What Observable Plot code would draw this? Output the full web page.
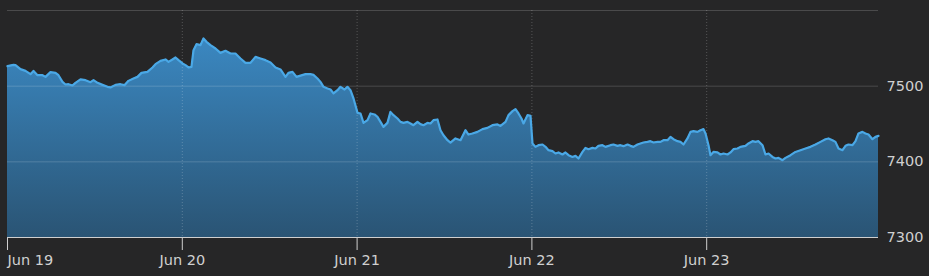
<!DOCTYPE html>
<html>
<head>
<meta charset="utf-8">
<script src="https://cdn.jsdelivr.net/npm/d3@7"></script>
<script src="https://cdn.jsdelivr.net/npm/@observablehq/plot@0.6"></script>
<style>
  html, body { margin: 0; padding: 0; background: #262627; }
  #chart { width: 929px; height: 276px; }
</style>
</head>
<body>
<div id="chart"></div>
<script>
// [hours since Jun 19 00:00, index value]
const series = [
  [0,7526.4],[0.82,7528.2],[1.10,7527.8],[1.78,7522.5],[2.47,7520.2],[3.16,7515.9],[3.57,7520.2],[4.12,7514.5],
  [4.81,7514.5],[5.22,7512.3],[5.90,7518.5],[6.59,7517.6],[7.00,7514.5],[7.55,7505.7],[7.96,7502.2],[8.38,7502.6],
  [8.92,7500.9],[9.34,7504.4],[10.02,7508.9],[10.71,7507.9],[11.40,7505.3],[11.81,7507.9],[12.36,7504.4],[13.04,7501.7],
  [13.73,7499.1],[14.14,7498.3],[14.83,7501.7],[15.51,7502.6],[16.06,7501.3],[16.61,7507.0],[17.30,7510.2],[17.85,7512.3],
  [18.40,7517.6],[19.22,7518.9],[19.91,7524.7],[20.32,7529.1],[21.01,7533.4],[21.69,7535.3],[22.11,7532.1],[22.65,7535.3],
  [23.07,7537.9],[23.48,7534.4],[24.03,7530.0],[24.44,7527.8],[24.85,7524.7],[25.26,7525.5],[25.54,7547.6],[25.95,7555.5],
  [26.50,7554.2],[26.91,7563.1],[27.32,7558.6],[27.87,7554.2],[28.56,7549.8],[29.24,7544.0],[29.93,7546.7],[30.62,7543.2],
  [31.30,7543.2],[31.99,7536.6],[32.68,7530.8],[33.36,7530.8],[34.05,7538.7],[34.74,7536.6],[35.42,7534.4],[36.11,7531.3],
  [36.80,7524.7],[37.48,7522.1],[38.17,7512.3],[38.58,7517.6],[39.13,7518.9],[39.68,7512.3],[40.23,7513.9],[40.92,7515.9],
  [41.60,7515.9],[42.01,7514.9],[42.56,7510.2],[42.97,7505.7],[43.39,7499.1],[43.94,7497.0],[44.35,7495.6],[44.76,7490.4],
  [45.31,7494.7],[45.72,7499.1],[46.27,7495.6],[46.68,7499.1],[47.09,7494.7],[47.51,7483.7],[48.06,7464.7],[48.47,7463.9],
  [48.88,7451.5],[49.43,7455.1],[49.84,7463.9],[50.39,7462.6],[50.80,7459.4],[51.21,7452.8],[51.62,7446.2],[52.17,7451.5],
  [52.58,7466.0],[53.00,7461.7],[53.55,7457.3],[53.96,7452.8],[54.37,7451.5],[54.92,7452.8],[55.33,7450.7],[55.74,7448.4],
  [56.29,7452.8],[56.70,7449.8],[57.12,7448.4],[57.67,7451.5],[58.08,7450.7],[58.49,7455.1],[59.04,7456.0],[59.45,7441.8],
  [59.86,7435.2],[60.41,7428.6],[60.82,7425.3],[61.51,7430.9],[62.20,7428.6],[62.88,7441.8],[63.29,7436.1],[63.84,7437.5],
  [64.53,7439.6],[65.22,7443.2],[65.90,7444.9],[66.59,7448.4],[67.28,7449.4],[67.69,7447.5],[68.38,7452.8],[68.79,7461.7],
  [69.34,7467.0],[69.75,7469.6],[70.16,7463.9],[70.57,7457.3],[70.85,7450.7],[71.40,7461.7],[71.81,7460.7],[72.08,7424.3],
  [72.49,7419.8],[72.91,7422.0],[73.46,7422.9],[73.87,7419.8],[74.28,7415.4],[74.83,7414.1],[75.24,7411.0],[75.65,7412.4],
  [76.20,7409.7],[76.61,7412.4],[77.03,7408.8],[77.57,7406.5],[77.99,7407.9],[78.40,7404.4],[78.95,7413.1],[79.36,7418.4],
  [79.77,7416.7],[80.32,7418.4],[80.73,7417.6],[81.14,7421.1],[81.69,7422.0],[82.11,7419.8],[82.79,7422.0],[83.20,7422.9],
  [83.75,7421.1],[84.16,7422.0],[84.58,7420.7],[85.13,7422.9],[85.54,7421.1],[85.95,7419.8],[86.50,7422.9],[86.91,7424.3],
  [87.32,7425.6],[87.87,7426.4],[88.28,7427.3],[88.70,7425.6],[89.25,7426.4],[89.66,7426.4],[90.07,7428.6],[90.62,7428.6],
  [91.03,7433.0],[91.44,7429.9],[91.99,7427.3],[92.40,7426.4],[92.82,7422.9],[93.36,7430.9],[93.78,7439.6],[94.19,7440.5],
  [94.74,7439.6],[95.15,7441.8],[95.56,7443.2],[95.84,7437.5],[96.25,7422.0],[96.52,7408.8],[96.93,7413.1],[97.48,7412.4],
  [97.89,7409.7],[98.31,7411.0],[98.86,7409.7],[99.27,7412.4],[99.68,7416.7],[100.23,7417.6],[100.64,7419.8],[101.33,7421.1],
  [101.74,7424.3],[102.29,7427.3],[102.70,7426.4],[103.11,7427.3],[103.66,7422.0],[104.07,7409.7],[104.49,7411.0],[105.03,7406.5],
  [105.45,7404.4],[105.86,7405.2],[106.41,7402.2],[106.82,7405.2],[107.51,7408.8],[108.19,7413.1],[108.88,7415.4],[109.57,7417.6],
  [110.25,7419.8],[110.94,7422.9],[111.63,7426.4],[112.31,7429.9],[112.72,7430.9],[113.27,7428.6],[113.68,7426.4],[114.10,7417.6],
  [114.65,7415.4],[115.06,7421.1],[115.47,7422.9],[116.02,7422.0],[116.43,7427.3],[116.84,7437.5],[117.39,7439.6],[117.80,7437.5],
  [118.22,7436.1],[118.76,7429.9],[119.18,7433.0],[119.59,7434.3]
];
const dayStarts = ["2018-06-19","2018-06-20","2018-06-21","2018-06-22","2018-06-23"];
const tickLabels = ["Jun 19","Jun 20","Jun 21","Jun 22","Jun 23"];
const yTicks = [7300, 7400, 7500];
const yGrid = [7400, 7500, 7600];
const yDomain = [7300, 7600];

const start = Date.UTC(2018, 5, 19);
const data = series.map(([h, v]) => ({t: new Date(start + h * 3600e3), v}));
const days = dayStarts.map(s => new Date(s + "T00:00:00Z"));
const dayLabels = days.map((d, i) => ({d, label: tickLabels[i]}));

const W = 929, H = 276, mT = 10, mB = 39, mL = 7, mR = 51;

const gradientDefs = () => {
  const defs = d3.create("svg:defs");
  const g = defs.append("linearGradient")
    .attr("id", "areaGrad")
    .attr("gradientUnits", "userSpaceOnUse")
    .attr("x1", 0).attr("x2", 0)
    .attr("y1", mT).attr("y2", H - mB);
  g.append("stop").attr("offset", "0%").attr("stop-color", "#3d8fcc");
  g.append("stop").attr("offset", "100%").attr("stop-color", "#2a5474");
  return defs.node();
};

const chart = Plot.plot({
  width: W,
  height: H,
  marginTop: mT,
  marginBottom: mB,
  marginLeft: mL,
  marginRight: mR,
  style: {background: "#262627", fontFamily: "DejaVu Sans, sans-serif", fontSize: "14px", color: "#d0d0d0", overflow: "visible"},
  x: {type: "utc", domain: [data[0].t, data[data.length - 1].t]},
  y: {domain: yDomain},
  marks: [
    gradientDefs,
    Plot.areaY(data, {x: "t", y1: yDomain[0], y2: "v", fill: "url(#areaGrad)", curve: "linear"}),
    Plot.ruleY(yGrid, {stroke: "#ffffff", strokeOpacity: 0.17, strokeWidth: 1}),
    Plot.ruleX(days.slice(1), {stroke: "#ffffff", strokeOpacity: 0.22, strokeDasharray: "1,2", strokeWidth: 1}),
    Plot.lineY(data, {x: "t", y: "v", stroke: "#4aa8e6", strokeWidth: 2.2, strokeLinejoin: "round"}),
    Plot.ruleY([yDomain[0]], {stroke: "#cfcfcf", strokeWidth: 1}),
    Plot.axisX({ticks: days, tickSize: 13, tickFormat: () => "", stroke: "#cfcfcf", label: null}),
    Plot.text(dayLabels.slice(0, 1), {x: "d", y: yDomain[0], text: "label", dy: 23, textAnchor: "start", fill: "#d0d0d0", fontSize: 14.5}),
    Plot.text(dayLabels.slice(1), {x: "d", y: yDomain[0], text: "label", dy: 23, textAnchor: "middle", fill: "#d0d0d0", fontSize: 14.5}),
    Plot.axisY({ticks: yTicks, tickFormat: d => String(d), anchor: "right", tickSize: 0, tickPadding: 8, label: null, fill: "#d0d0d0", fontSize: 14.5, textAnchor: "start"})
  ]
});
document.getElementById("chart").appendChild(chart);
</script>
</body>
</html>
